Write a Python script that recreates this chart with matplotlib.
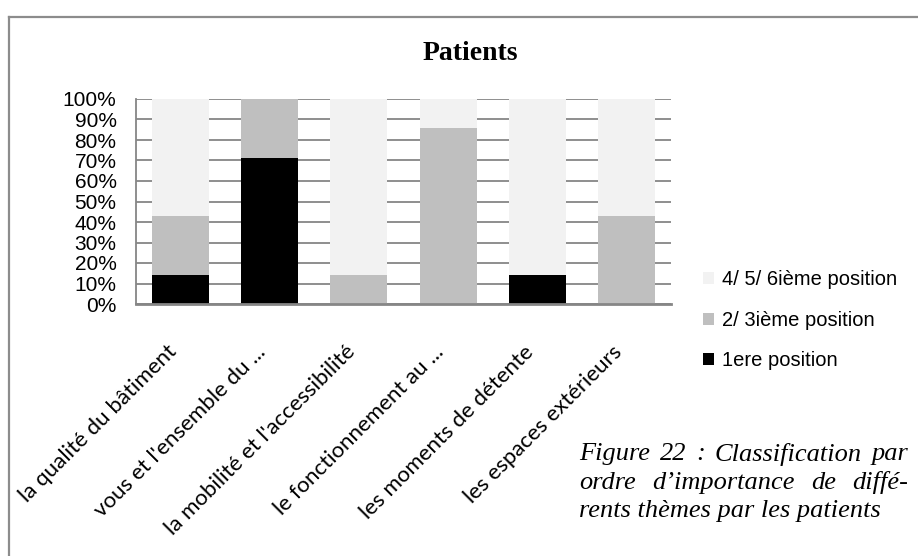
import matplotlib
matplotlib.use("Agg")
import matplotlib.pyplot as plt
from matplotlib.lines import Line2D
import numpy as np

# Themes ranked by the patients (share of answers per rank group)
categories = [
    "la qualité du bâtiment",
    "vous et l'ensemble du ...",
    "la mobilité et l'accessibilité",
    "le fonctionnement au ...",
    "les moments de détente",
    "les espaces extérieurs",
]
rank_first = [14.3, 71.4, 0.0, 0.0, 14.3, 0.0]
rank_2_3 = [28.6, 28.6, 14.3, 85.7, 0.0, 42.9]
rank_4_6 = [57.1, 0.0, 85.7, 14.3, 85.7, 57.1]

series_labels = ["1ere position", "2/ 3ième position", "4/ 5/ 6ième position"]
series_colors = ["#000000", "#BFBFBF", "#F2F2F2"]
yticks = [0, 10, 20, 30, 40, 50, 60, 70, 80, 90, 100]

W, H = 918, 556
fig = plt.figure(figsize=(W / 100, H / 100), dpi=100)
fig.patch.set_facecolor("white")

ax = fig.add_axes([136 / W, 1 - 304 / H, (671 - 136) / W, (304 - 99) / H])

x = np.arange(len(categories))
bottom = np.zeros(len(categories))
bars = []
for vals, lab, col in zip([rank_first, rank_2_3, rank_4_6], series_labels, series_colors):
    b = ax.bar(x, vals, width=0.64, bottom=bottom, color=col, label=lab,
               edgecolor="none", zorder=2)
    bars.append(b)
    bottom = bottom + np.array(vals)

ax.set_xlim(-0.5, len(categories) - 0.5)
ax.set_ylim(0, 100)
ax.set_yticks(yticks)
ax.set_yticklabels([f"{v}%" for v in yticks], fontfamily="Liberation Sans", fontsize=15)
ax.yaxis.grid(True, color="#868686", linewidth=1.3, zorder=0)
ax.set_axisbelow(True)
ax.tick_params(axis="y", length=0, pad=14)
ax.tick_params(axis="x", length=0, pad=27)
ax.set_xticks(x)
ax.set_xticklabels(categories, rotation=45, ha="right", va="top",
                   fontfamily="Lato", fontsize=16)
for s in ["top", "right"]:
    ax.spines[s].set_visible(False)
ax.spines["left"].set_color("#868686")
ax.spines["left"].set_linewidth(1.3)
ax.spines["bottom"].set_color("#868686")
ax.spines["bottom"].set_linewidth(2.0)

# Title
fig.text(470 / W, 1 - 53 / H, "Patients", ha="center", va="center",
         fontfamily="Liberation Serif", fontweight="bold", fontsize=20)

# Legend, top entry is the lightest series
handles = [bars[2], bars[1], bars[0]]
labels = [series_labels[2], series_labels[1], series_labels[0]]
leg = fig.legend(handles, labels, loc="upper left",
                 bbox_to_anchor=(703 / W, 1 - 270 / H), bbox_transform=fig.transFigure,
                 frameon=False, handlelength=0.55, handleheight=0.55, handletextpad=0.4,
                 labelspacing=1.08, borderpad=0, borderaxespad=0,
                 prop={"family": "Liberation Sans", "size": 14.5})

# Outer frame (left and top edges)
fig.add_artist(Line2D([9 / W, 9 / W], [0, 1 - 17 / H], transform=fig.transFigure,
                      color="#8C8C8C", linewidth=1.6))
fig.add_artist(Line2D([9 / W, 1], [1 - 17 / H, 1 - 17 / H], transform=fig.transFigure,
                      color="#8C8C8C", linewidth=1.6))

# Caption, justified lines
caption_lines = [
    ("Figure 22 : Classification par", True),
    ("ordre d\u2019importance de diffé-", True),
    ("rents thèmes par les patients", False),
]
cap_x0, cap_x1 = 579, 908
cap_y = [454, 483, 511]
cap_font = dict(fontfamily="Liberation Serif", fontstyle="italic", fontsize=19)

fig.canvas.draw()
renderer = fig.canvas.get_renderer()
for (line, justify), yy in zip(caption_lines, cap_y):
    if not justify:
        fig.text(cap_x0 / W, 1 - yy / H, line, ha="left", va="center", **cap_font)
        continue
    words = line.split(" ")
    widths = []
    for w in words:
        t = fig.text(0, 0, w, **cap_font)
        widths.append(t.get_window_extent(renderer).width)
        t.remove()
    gap = (cap_x1 - cap_x0 - sum(widths)) / (len(words) - 1)
    xp = cap_x0
    for w, wd in zip(words, widths):
        fig.text(xp / W, 1 - yy / H, w, ha="left", va="center", **cap_font)
        xp += wd + gap

fig.savefig("out.png", dpi=100)
